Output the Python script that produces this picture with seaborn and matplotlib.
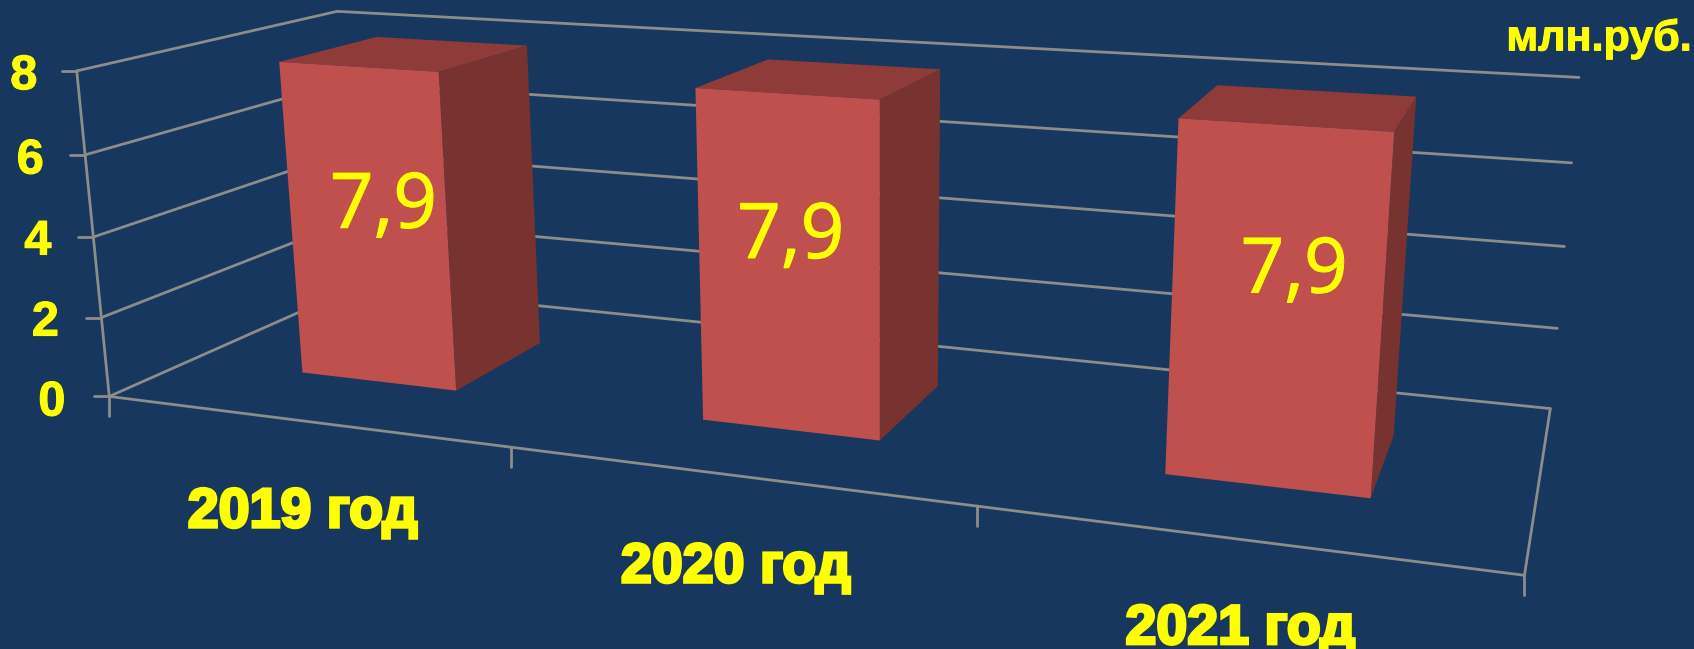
import numpy as np
import pandas as pd
import seaborn as sns
import matplotlib
matplotlib.use("Agg")
import matplotlib.pyplot as plt
from matplotlib.patches import Polygon
from matplotlib.transforms import Transform, Affine2D
import matplotlib.patheffects as pe

# ---- data
categories = ["2019 год", "2020 год", "2021 год"]
values = [7.9, 7.9, 7.9]
value_labels = ["7,9", "7,9", "7,9"]
y_ticks = [0, 2, 4, 6, 8]
unit = "млн.руб."

# ---- style
BG = "#17375E"
FRONT = "#C0504D"
TOP = "#8F3B39"
SIDE = "#783230"
GRID = "#8C8C8C"
YEL = "#FFFF00"
LW = 2.0
W, H = 1694, 649
S = W / 1568.0
BAR_WIDTH = 0.4
D0, D1 = 0.3, 0.7

sns.set_theme(style="white")
plt.rcParams["font.family"] = ["Liberation Sans", "DejaVu Sans"]

# camera fitted to the chart frame (view position of the box corners)
frame_world = np.array([
    (-.5, 0, 0), (2.5, 0, 0), (2.5, 0, 1), (-.5, 0, 1), (-.5, 8, 0), (-.5, 8, 1), (2.5, 8, 1),
    (.5, 0, 0), (1.5, 0, 0), (2.5, 6, 1), (2.5, 4, 1), (2.5, 2, 1),
    (-.5, 6, 0), (-.5, 4, 0), (-.5, 2, 0)], float)
frame_view = np.array([
    (100, 368), (1411, 532), (1435, 378), (331, 265), (72, 65), (310, 11), (1462, 72),
    (472, 415), (905, 468), (1455, 151), (1448, 228), (1441, 304),
    (80, 143), (87, 219), (93, 294)], float) * S
rows = []
for (X, V, Dp), (u, v) in zip(frame_world, frame_view):
    rows.append([X, V, Dp, 1, 0, 0, 0, 0, -u * X, -u * V, -u * Dp, -u])
    rows.append([0, 0, 0, 0, X, V, Dp, 1, -v * X, -v * V, -v * Dp, -v])
P = np.linalg.svd(np.array(rows))[2][-1].reshape(3, 4)


def project(x, v, d):
    q = P @ np.array([x, v, d, 1.0])
    return q[:2] / q[2]


class Plane(Transform):
    input_dims = output_dims = 2
    has_inverse = False
    is_separable = False

    def __init__(self, plane_depth):
        super().__init__()
        self.plane_depth = plane_depth

    def transform_non_affine(self, xy):
        xy = np.asarray(xy, float)
        n = len(xy)
        q = np.c_[xy, np.full(n, self.plane_depth), np.ones(n)] @ P.T
        return np.c_[q[:, 0] / q[:, 2], H - q[:, 1] / q[:, 2]]


to_disp = Affine2D().scale(1, -1).translate(0, H)

fig = plt.figure(figsize=(W / 100, H / 100), dpi=100, facecolor=BG)
ax = fig.add_axes([0, 0, 1, 1])
df = pd.DataFrame({"category": categories, "value": values})
sns.barplot(data=df, x="category", y="value", color=FRONT, saturation=1, width=BAR_WIDTH, ax=ax)
ax.set_xlim(-.5, 2.5)
ax.set_ylim(0, 8)
ax.axis("off")


def seg(p, q, z=1):
    a, b = project(*p), project(*q)
    ax.plot([a[0], b[0]], [a[1], b[1]], color=GRID, lw=LW, transform=to_disp, clip_on=False, zorder=z,
            solid_capstyle="round")


for t in y_ticks:
    seg((-.5, t, 0), (-.5, t, 1))
    seg((-.5, t, 1), (2.5, t, 1))
    a = project(-.5, t, 0)
    ax.plot([a[0] - 14 * S, a[0]], [a[1], a[1]], color=GRID, lw=LW, transform=to_disp, clip_on=False, zorder=1)
seg((-.5, 0, 0), (-.5, 8, 0))
seg((-.5, 0, 0), (2.5, 0, 0))
seg((2.5, 0, 0), (2.5, 0, 1))
for x in [-.5, .5, 1.5, 2.5]:
    a = project(x, 0, 0)
    ax.plot([a[0], a[0]], [a[1], a[1] + 18 * S], color=GRID, lw=LW, transform=to_disp, clip_on=False, zorder=1)

for bar in list(ax.patches):
    x0, x1, h = bar.get_x(), bar.get_x() + bar.get_width(), bar.get_height()
    bar.set_transform(Plane(D0))
    bar.set_clip_on(False)
    bar.set_edgecolor("none")
    bar.set_zorder(4)
    side = [project(x1, 0, D0), project(x1, h, D0), project(x1, h, D1), project(x1, 0, D1)]
    top = [project(x0, h, D0), project(x1, h, D0), project(x1, h, D1), project(x0, h, D1)]
    ax.add_patch(Polygon(side, color=SIDE, lw=0, transform=to_disp, clip_on=False, zorder=3))
    ax.add_patch(Polygon(top, color=TOP, lw=0, transform=to_disp, clip_on=False, zorder=3))

label_view = [(355, 192), (732, 220), (1198, 252)]
for (lx, ly), txt in zip(label_view, value_labels):
    ax.text(lx * S, ly * S, txt, transform=to_disp, color=YEL, fontsize=55, family="Open Sans",
            ha="center", va="center", zorder=6,
            path_effects=[pe.withStroke(linewidth=0.8, foreground=YEL)])

tick_view = [(48, 373), (42, 299), (35, 224), (28, 149), (22, 71)]
for (lx, ly), t in zip(tick_view, y_ticks):
    ax.text(lx * S, ly * S, str(t), transform=to_disp, color=YEL, fontsize=35, fontweight="bold",
            ha="center", va="center", zorder=6,
            path_effects=[pe.withStroke(linewidth=0.8, foreground=YEL)])

cat_view = [(280, 475), (681, 526), (1148, 583)]
for (lx, ly), txt in zip(cat_view, categories):
    ax.text(lx * S, ly * S, txt, transform=to_disp, color=YEL, fontsize=40, fontweight="bold",
            ha="center", va="center", zorder=6,
            path_effects=[pe.withStroke(linewidth=2.2, foreground=YEL, joinstyle="miter")])

ax.text(1480 * S, 36 * S, unit, transform=to_disp, color=YEL, fontsize=31, fontweight="bold",
        ha="center", va="center", zorder=6,
        path_effects=[pe.withStroke(linewidth=0.8, foreground=YEL)])

fig.savefig("out.png", dpi=100, facecolor=BG)
